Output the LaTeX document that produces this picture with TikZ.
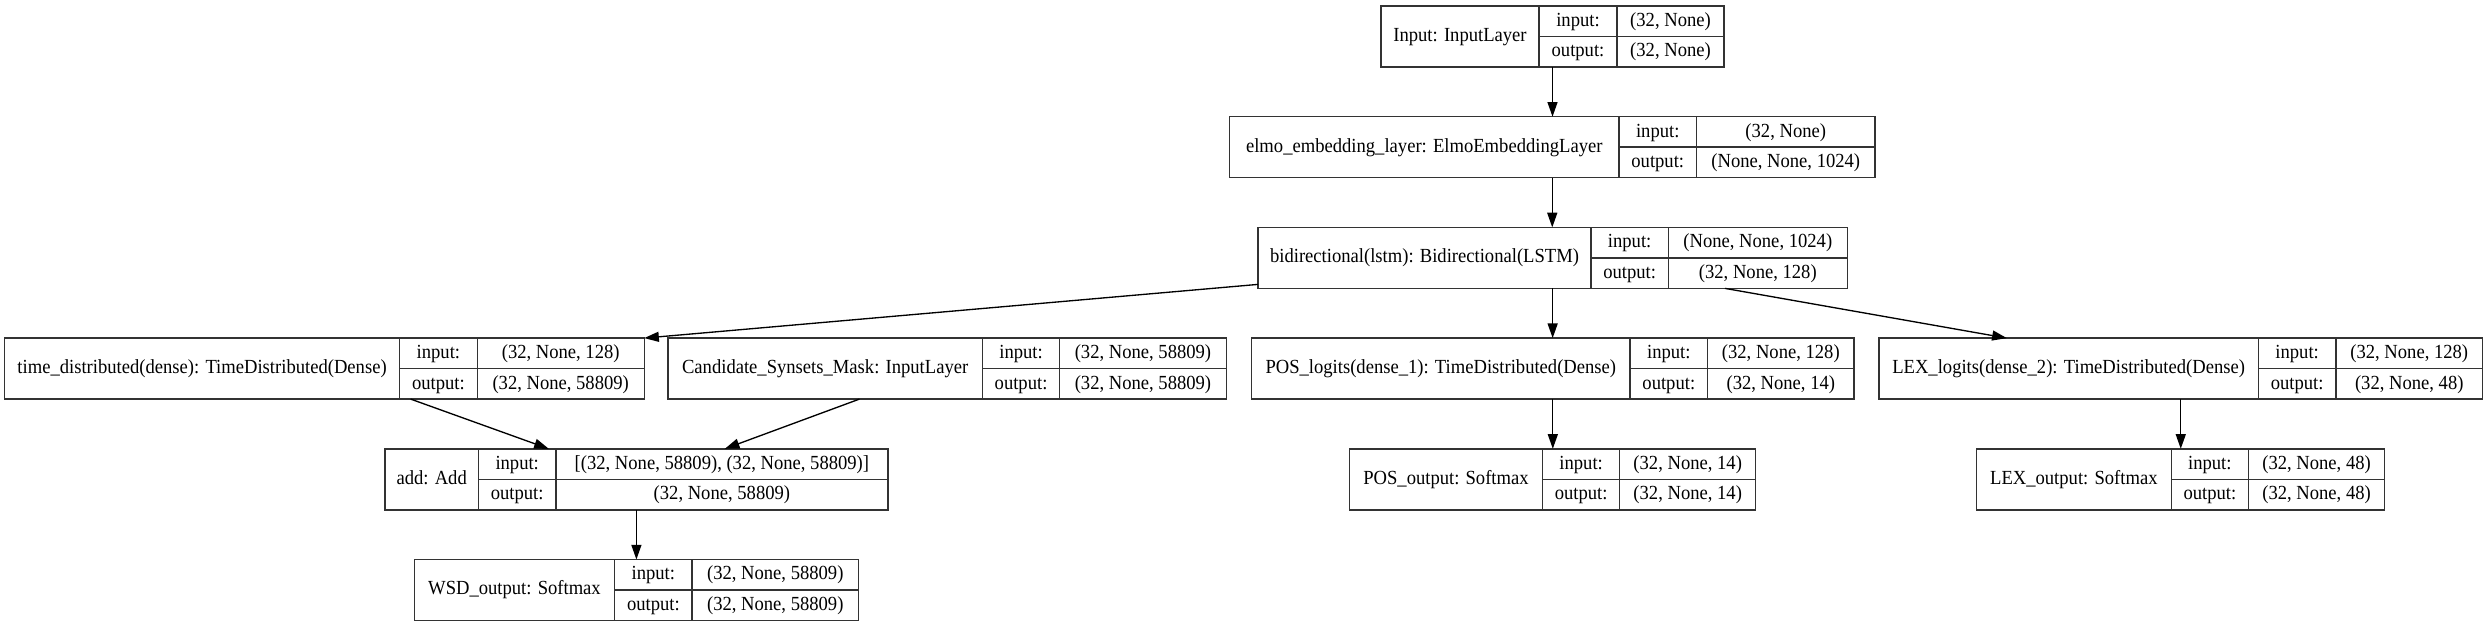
\documentclass[tikz,border=0pt]{standalone}
\usepackage{fontspec}
\setmainfont{Liberation Serif}[FakeStretch=0.93]
\usetikzlibrary{arrows.meta,calc}
\tikzset{
  recbox/.style={draw=black!80, line width=1.05pt, inner sep=0pt, outer sep=0pt, anchor=north west},
  cellline/.style={draw=black!80, line width=1.05pt},
  txt/.style={inner sep=0pt, text height=10.2pt, text depth=2.8pt, font=\fontsize{15pt}{17pt}\selectfont},
  arr/.style={draw=black, line width=1pt, -{Triangle[length=11pt,width=7.5pt]}},
}
% name, x1, d1, d2, x2, ytop, label, input, output
\newcommand\krec[9]{%
  \node[recbox, minimum width={(#5-(#2))*0.75pt}, minimum height={61*0.75pt}] (#1) at (#2,#6) {};
  \draw[cellline] (#3,#6) -- (#3,{#6+61});
  \draw[cellline] (#4,#6) -- (#4,{#6+61});
  \draw[cellline] (#3,{#6+30.5}) -- (#5,{#6+30.5});
  \node[txt] (#1l) at ({(#2+#3)/2},{#6+30.5}) {#7};
  \node[txt] (#1ia) at ({(#3+#4)/2},{#6+15.5}) {input:};
  \node[txt] (#1oa) at ({(#3+#4)/2},{#6+46}) {output:};
  \node[txt] (#1iv) at ({(#4+#5)/2},{#6+15.5}) {#8};
  \node[txt] (#1ov) at ({(#4+#5)/2},{#6+46}) {#9};
}
\begin{document}
\begin{tikzpicture}[x=0.75pt,y=-0.75pt]
\useasboundingbox[fill=white] (0,0) rectangle (2488,627);
\krec{inp}{1381}{1539}{1617}{1724}{6}{Input: InputLayer}{(32, None)}{(32, None)}
\krec{elmo}{1229.5}{1619}{1696.5}{1875}{116.7}{elmo\_embedding\_layer: ElmoEmbeddingLayer}{(32, None)}{(None, None, 1024)}
\krec{bi}{1258}{1591}{1668.3}{1847.3}{227.4}{bidirectional(lstm): Bidirectional(LSTM)}{(None, None, 1024)}{(32, None, 128)}
\krec{td}{4.5}{399.6}{477.2}{644.2}{338.1}{time\_distributed(dense): TimeDistributed(Dense)}{(32, None, 128)}{(32, None, 58809)}
\krec{cand}{667.8}{982.5}{1059.6}{1226.3}{338.1}{Candidate\_Synsets\_Mask: InputLayer}{(32, None, 58809)}{(32, None, 58809)}
\krec{posl}{1251.6}{1630}{1707.6}{1854}{338.1}{POS\_logits(dense\_1): TimeDistributed(Dense)}{(32, None, 128)}{(32, None, 14)}
\krec{lexl}{1878.8}{2258.5}{2335.8}{2482.7}{338.1}{LEX\_logits(dense\_2): TimeDistributed(Dense)}{(32, None, 128)}{(32, None, 48)}
\krec{add}{384.8}{478.6}{555.8}{888}{448.8}{add: Add}{[(32, None, 58809), (32, None, 58809)]}{(32, None, 58809)}
\krec{poso}{1349.4}{1542.6}{1619.7}{1755.7}{448.8}{POS\_output: Softmax}{(32, None, 14)}{(32, None, 14)}
\krec{lexo}{1976.5}{2171.2}{2248.5}{2384.6}{448.8}{LEX\_output: Softmax}{(32, None, 48)}{(32, None, 48)}
\krec{wsd}{414.3}{614.7}{692}{858.5}{559.5}{WSD\_output: Softmax}{(32, None, 58809)}{(32, None, 58809)}
\draw[arr] (inp.south) -- (inp.south |- elmo.north);
\draw[arr] (elmo.south) -- (elmo.south |- bi.north);
\draw[arr] (bi.south) -- (bi.south |- posl.north);
\draw[arr] ([yshift=3pt]bi.south west) -- (td.north east);
\draw[arr] ([xshift={467*0.75pt}]bi.south west) -- ([xshift={128*0.75pt}]lexl.north west);
\draw[arr] ([xshift={406.2*0.75pt}]td.south west) -- ([xshift={164*0.75pt}]add.north west);
\draw[arr] ([xshift={191.6*0.75pt}]cand.south west) -- ([xshift={340*0.75pt}]add.north west);
\draw[arr] (posl.south) -- (posl.south |- poso.north);
\draw[arr] (lexl.south) -- (lexl.south |- lexo.north);
\draw[arr] (add.south) -- (add.south |- wsd.north);
\end{tikzpicture}
\end{document}
